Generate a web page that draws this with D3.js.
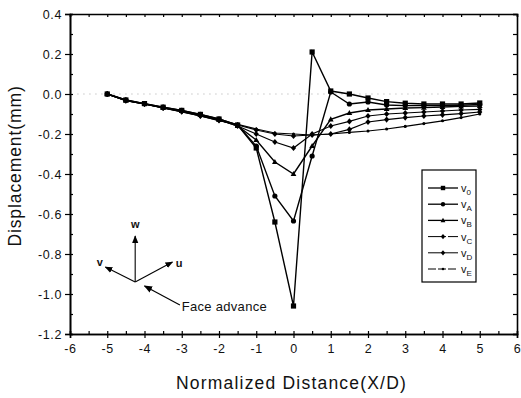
<!DOCTYPE html>
<html>
<head>
<meta charset="utf-8">
<script src="https://cdn.jsdelivr.net/npm/d3@7"></script>
<style>
  body { margin: 0; background: #fff; }
  svg text { font-family: "Liberation Sans", Arial, sans-serif; fill: #111; }
</style>
</head>
<body>
<svg id="chart" width="521" height="398"></svg>
<script>
// normalized distance X/D
const xs = [-5, -4.5, -4, -3.5, -3, -2.5, -2, -1.5, -1, -0.5, 0, 0.5, 1, 1.5, 2, 2.5, 3, 3.5, 4, 4.5, 5]

// displacement (mm), one array per series
const v0 = [0, -0.03, -0.048, -0.066, -0.082, -0.102, -0.125, -0.155, -0.27, -0.64, -1.06, 0.21, 0.015, 0.0, -0.02, -0.038, -0.046, -0.05, -0.05, -0.05, -0.045]
const vA = [0, -0.03, -0.048, -0.066, -0.082, -0.102, -0.125, -0.155, -0.26, -0.51, -0.635, -0.31, 0.01, -0.05, -0.04, -0.055, -0.058, -0.058, -0.058, -0.056, -0.052]
const vB = [0, -0.032, -0.05, -0.068, -0.085, -0.105, -0.128, -0.16, -0.23, -0.34, -0.40, -0.26, -0.127, -0.095, -0.08, -0.075, -0.07, -0.068, -0.065, -0.062, -0.06]
const vC = [0, -0.032, -0.05, -0.07, -0.087, -0.108, -0.13, -0.16, -0.2, -0.24, -0.27, -0.2, -0.16, -0.137, -0.11, -0.1, -0.095, -0.09, -0.085, -0.08, -0.077]
const vD = [0, -0.033, -0.05, -0.07, -0.088, -0.11, -0.132, -0.155, -0.18, -0.2, -0.21, -0.205, -0.2, -0.177, -0.14, -0.128, -0.118, -0.11, -0.104, -0.098, -0.09]
const vE = [0, -0.033, -0.05, -0.07, -0.09, -0.11, -0.133, -0.152, -0.175, -0.195, -0.2, -0.205, -0.2, -0.192, -0.185, -0.175, -0.162, -0.148, -0.134, -0.118, -0.1]

const seriesNames = ['V|0', 'V|A', 'V|B', 'V|C', 'V|D', 'V|E']
const seriesValues = [v0, vA, vB, vC, vD, vE]
const seriesMarkers = ['square', 'circle', 'triangle', 'diamond', 'diamond', 'dot']

const xTicks = [-6, -5, -4, -3, -2, -1, 0, 1, 2, 3, 4, 5, 6]
const yTicks = [0.4, 0.2, 0.0, -0.2, -0.4, -0.6, -0.8, -1.0, -1.2]

const svg = d3.select('#chart')
const mLeft = 70, mRight = 517, mTop = 14, mBottom = 334

const x = d3.scaleLinear().domain([-6, 6]).range([mLeft, mRight])
const y = d3.scaleLinear().domain([-1.2, 0.4]).range([mBottom, mTop])

// plain hyphen as in the original print
const fmtX = d => String(d)
const fmtY = d => d.toFixed(1).replace('\u2212', '-')

// zero reference (dotted)
svg.append('line')
  .attr('x1', x(-5.8)).attr('x2', x(5.1))
  .attr('y1', y(0)).attr('y2', y(0))
  .attr('stroke', '#aaa').attr('stroke-width', 1)
  .attr('stroke-dasharray', '1,5')

// frame
const minorX = d3.range(-6, 6.01, 0.5)
const minorY = d3.range(-1.2, 0.401, 0.1)

svg.append('g').attr('transform', `translate(0,${mBottom})`)
  .call(d3.axisBottom(x).tickValues(xTicks).tickFormat(fmtX).tickSize(4).tickPadding(6))
svg.append('g').attr('transform', `translate(0,${mBottom})`)
  .call(d3.axisBottom(x).tickValues(minorX).tickFormat('').tickSize(-3))
svg.append('g').attr('transform', `translate(0,${mTop})`)
  .call(d3.axisTop(x).tickValues(minorX).tickFormat('').tickSize(-3))
svg.append('g').attr('transform', `translate(${mLeft},0)`)
  .call(d3.axisLeft(y).tickValues(yTicks).tickFormat(fmtY).tickSize(5).tickPadding(3))
svg.append('g').attr('transform', `translate(${mLeft},0)`)
  .call(d3.axisLeft(y).tickValues(minorY).tickFormat('').tickSize(-3))
svg.append('g').attr('transform', `translate(${mRight},0)`)
  .call(d3.axisRight(y).tickValues(minorY).tickFormat('').tickSize(-4))

svg.selectAll('.domain').attr('stroke', '#000').attr('stroke-width', 1.6)
svg.selectAll('.tick line').attr('stroke', '#000').attr('stroke-width', 1.2)
svg.selectAll('.tick text').attr('font-size', 12.5).attr('letter-spacing', 0.6).attr('fill', '#111')

// series
const line = d3.line().x((d, i) => x(xs[i])).y(d => y(d))

function marker(g, type, cx, cy, s) {
  if (type === 'square') g.append('rect').attr('x', cx - s).attr('y', cy - s).attr('width', 2 * s).attr('height', 2 * s)
  else if (type === 'circle') g.append('circle').attr('cx', cx).attr('cy', cy).attr('r', s)
  else if (type === 'triangle') g.append('path').attr('d', `M${cx},${cy - s * 1.2}L${cx + s * 1.1},${cy + s * 0.8}L${cx - s * 1.1},${cy + s * 0.8}Z`)
  else if (type === 'diamond') g.append('path').attr('d', `M${cx},${cy - s * 1.2}L${cx + s},${cy}L${cx},${cy + s * 1.2}L${cx - s},${cy}Z`)
  else g.append('circle').attr('cx', cx).attr('cy', cy).attr('r', s * 0.6)
}

seriesValues.forEach((vals, k) => {
  const g = svg.append('g')
  g.append('path').datum(vals)
    .attr('d', line)
    .attr('fill', 'none')
    .attr('stroke', '#000')
    .attr('stroke-width', k < 3 ? 1.4 : 1.2)
  const mg = g.append('g').attr('fill', '#000')
  vals.forEach((v, i) => marker(mg, seriesMarkers[k], x(xs[i]), y(v), 2.6))
})

// axis titles
svg.append('text')
  .attr('x', x(0) - 2).attr('y', 389)
  .attr('text-anchor', 'middle')
  .attr('font-size', 17.5)
  .attr('letter-spacing', 1.2)
  .text('Normalized Distance(X/D)')
svg.append('text')
  .attr('transform', `translate(21,${(mTop + mBottom) / 2 - 8}) rotate(-90)`)
  .attr('text-anchor', 'middle')
  .attr('font-size', 17.5)
  .attr('letter-spacing', 0.9)
  .text('Displacement(mm)')

// legend
const lg = svg.append('g').attr('transform', 'translate(422,170)')
lg.append('rect').attr('width', 54).attr('height', 112)
  .attr('fill', '#fff').attr('stroke', '#000').attr('stroke-width', 1.2)
seriesNames.forEach((n, k) => {
  const ly = 18 + k * 16.2
  lg.append('line').attr('x1', 6).attr('x2', 36).attr('y1', ly).attr('y2', ly)
    .attr('stroke', '#000').attr('stroke-width', k < 3 ? 1.3 : 1)
    .attr('stroke-dasharray', k === 3 ? '14,2,2,2' : k === 5 ? '8,2' : null)
  marker(lg.append('g').attr('fill', '#000'), seriesMarkers[k], 21, ly, 2.2)
  const [base, sub] = n.split('|')
  const t = lg.append('text').attr('x', 39).attr('y', ly + 4).attr('font-size', 11)
  t.append('tspan').text(base.toLowerCase())
  t.append('tspan').attr('font-size', 8).attr('dy', 3).text(sub)
})

// coordinate sketch (placed in data units)
const ox = -4.25, oy = -0.94
const arrows = [
  {dx: 0, dy: 0.23, label: 'w', lx: 0, ly: 0.29},
  {dx: -0.8, dy: 0.075, label: 'v', lx: -0.95, ly: 0.1},
  {dx: 1.0, dy: 0.1, label: 'u', lx: 1.18, ly: 0.095}
]
const defs = svg.append('defs')
defs.append('marker').attr('id', 'ah').attr('viewBox', '0 0 10 10')
  .attr('refX', 9).attr('refY', 5).attr('markerWidth', 7).attr('markerHeight', 7)
  .attr('orient', 'auto-start-reverse')
  .append('path').attr('d', 'M0,1L10,5L0,9Z').attr('fill', '#000')

const sk = svg.append('g')
arrows.forEach(a => {
  sk.append('line')
    .attr('x1', x(ox)).attr('y1', y(oy))
    .attr('x2', x(ox + a.dx)).attr('y2', y(oy + a.dy))
    .attr('stroke', '#000').attr('stroke-width', 1.1)
    .attr('marker-end', 'url(#ah)')
  sk.append('text')
    .attr('x', x(ox + a.lx)).attr('y', y(oy + a.ly) + 4)
    .attr('text-anchor', 'middle')
    .attr('font-size', 11).attr('font-weight', 'bold')
    .text(a.label)
})
sk.append('line')
  .attr('x1', x(-3.05)).attr('y1', y(-1.055))
  .attr('x2', x(-4.0)).attr('y2', y(-0.96))
  .attr('stroke', '#000').attr('stroke-width', 1.2)
  .attr('marker-end', 'url(#ah)')
sk.append('text')
  .attr('x', x(-3.0)).attr('y', y(-1.085))
  .attr('font-size', 13)
  .attr('letter-spacing', 0.3)
  .text('Face advance')
</script>
</body>
</html>
